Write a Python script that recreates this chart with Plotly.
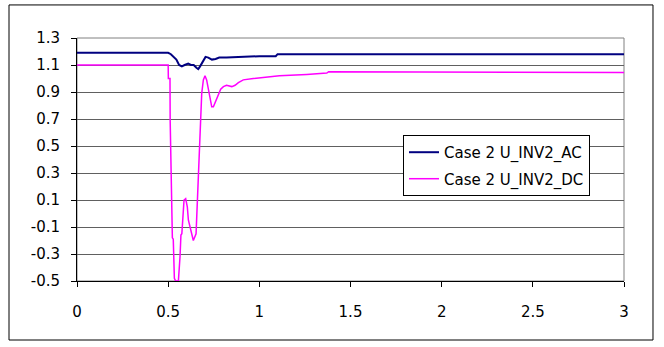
import plotly.graph_objects as go

# Time axis (s) and series values
t_ac = [0, 0.5, 0.515, 0.53, 0.545, 0.56, 0.575, 0.59, 0.61, 0.625, 0.64, 0.655, 0.665,
        0.675, 0.69, 0.705, 0.72, 0.74, 0.76, 0.78, 0.82, 0.88, 0.95, 1.0, 1.09, 1.1, 3.0]
u_ac = [1.19, 1.19, 1.18, 1.16, 1.14, 1.10, 1.09, 1.10, 1.11, 1.10, 1.10, 1.08, 1.07,
        1.09, 1.13, 1.16, 1.155, 1.14, 1.145, 1.155, 1.155, 1.16, 1.165, 1.165, 1.165, 1.18, 1.18]

t_dc = [0, 0.5, 0.501, 0.51, 0.511, 0.516, 0.523, 0.528, 0.534, 0.541, 0.556, 0.565, 0.57,
        0.575, 0.58, 0.587, 0.596, 0.605, 0.611, 0.62, 0.629, 0.638, 0.653, 0.66, 0.671,
        0.675, 0.684, 0.693, 0.702, 0.711, 0.72, 0.73, 0.739, 0.748, 0.762, 0.775, 0.788,
        0.803, 0.82, 0.849, 0.867, 0.885, 0.912, 0.967, 1.04, 1.11, 1.26, 1.37, 1.38, 1.62,
        1.64, 1.76, 1.78, 2.14, 2.16, 3.0]
u_dc = [1.1, 1.1, 1.0, 1.0, 0.69, 0.24, -0.18, -0.19, -0.48, -0.5, -0.5, -0.32, -0.16,
        -0.15, 0.0, 0.1, 0.11, 0.05, -0.05, -0.1, -0.17, -0.2, -0.15, 0.1, 0.41,
        0.69, 0.89, 0.99, 1.02, 0.99, 0.915, 0.84, 0.79, 0.79, 0.84, 0.88, 0.92,
        0.94, 0.95, 0.94, 0.95, 0.97, 0.99, 1.0, 1.01, 1.02, 1.03, 1.04, 1.05, 1.05,
        1.045, 1.045, 1.05, 1.05, 1.045, 1.045]

x_ticks = [0, 0.5, 1, 1.5, 2, 2.5, 3]
x_labels = ["0", "0.5", "1", "1.5", "2", "2.5", "3"]
y_ticks = [-0.5, -0.3, -0.1, 0.1, 0.3, 0.5, 0.7, 0.9, 1.1, 1.3]
y_labels = ["-0.5", "-0.3", "-0.1", "0.1", "0.3", "0.5", "0.7", "0.9", "1.1", "1.3"]

FONT = "DejaVu Sans"

fig = go.Figure()
fig.add_trace(go.Scatter(x=t_ac, y=u_ac, mode="lines", name="Case 2 U_INV2_AC",
                         legendgroup="ac",
                         line=dict(color="#000080", width=2)))
fig.add_trace(go.Scatter(x=t_dc, y=u_dc, mode="lines", name="Case 2 U_INV2_DC",
                         legendgroup="dc",
                         line=dict(color="#FF00FF", width=1.5)))

fig.update_layout(
    width=664, height=347,
    margin=dict(l=77, r=40, t=38, b=66),
    paper_bgcolor="white", plot_bgcolor="white",
    font=dict(family=FONT, size=15, color="black"),
    showlegend=True,
    legend=dict(x=0.596, y=0.601, xanchor="left", yanchor="top",
                bgcolor="white", bordercolor="black", borderwidth=1,
                font=dict(family=FONT, size=15), tracegroupgap=4,
                traceorder="grouped"),
    xaxis=dict(range=[0, 3], tickvals=x_ticks, ticktext=x_labels,
               showgrid=False, zeroline=False, showline=True, linecolor="black",
               linewidth=1, ticks="outside", ticklen=5, tickcolor="black",
               ticklabelstandoff=12),
    yaxis=dict(range=[-0.5, 1.3], tickvals=y_ticks, ticktext=y_labels,
               showgrid=True, gridcolor="#606060", gridwidth=1, zeroline=False,
               showline=True, linecolor="black", linewidth=1, ticks="outside",
               ticklen=5, tickcolor="black", ticklabelstandoff=8),
    shapes=[
        dict(type="rect", xref="paper", yref="paper", x0=0, x1=1, y0=0, y1=1,
             line=dict(color="#808080", width=1), layer="below"),
        dict(type="rect", xref="paper", yref="paper", x0=-0.1243, x1=1.053,
             y0=-0.2428, y1=1.136, line=dict(color="black", width=1)),
    ],
)

fig.write_html("out.html", config={"displayModeBar": False},
               post_script="document.body.style.margin='0px';document.body.style.overflow='hidden';")
